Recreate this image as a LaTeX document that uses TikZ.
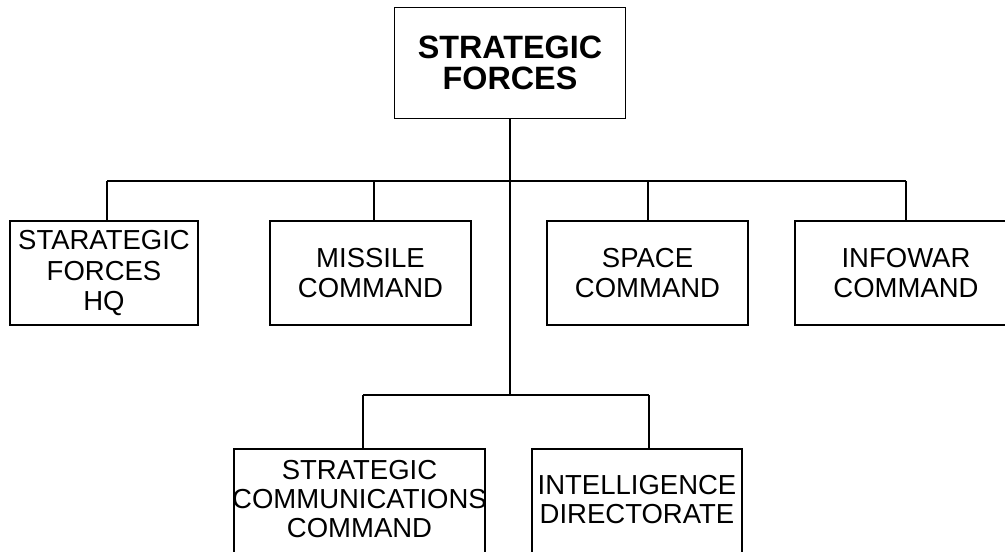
\documentclass[tikz,border=0pt]{standalone}
\usepackage{fontspec}
\setmainfont{Liberation Sans}
\begin{document}
\begin{tikzpicture}[x=1pt,y=-1pt,
  box/.style={draw, line width=1.3pt, inner sep=0pt, align=center,
    font=\fontsize{27.5}{30.5}\selectfont, minimum height=104pt},
  txt/.style={inner sep=0pt, align=center, font=\fontsize{27.5}{29}\selectfont},
  conn/.style={line width=1.3pt}]
\useasboundingbox (0,0) rectangle (1005,552);
\clip (0,0) rectangle (1005,552);
\fill[white] (0,0) rectangle (1005,552);
% top
\node[box, minimum width=231pt, minimum height=111pt,
  font=\fontsize{32.3}{31}\selectfont\bfseries] (top) at (510,63) {STRATEGIC\\FORCES};
% row
\node[box, minimum width=188pt] (hq) at (104,273) {STARATEGIC\\FORCES\\HQ};
\node[box, minimum width=201pt, font=\fontsize{27.5}{29.5}\selectfont] (mis) at (370.5,273) {MISSILE\\COMMAND};
\node[box, minimum width=201pt, font=\fontsize{27.5}{29.5}\selectfont] (spa) at (647.5,273) {SPACE\\COMMAND};
\node[box, minimum width=222pt, font=\fontsize{27.5}{29.5}\selectfont] (info) at (906,273) {INFOWAR\\COMMAND};
% bottom
\node[box, minimum width=251pt, minimum height=126pt] (comm) at (359.5,512) {};
\node[txt] (commtxt) at (359.5,499) {STRATEGIC\\COMMUNICATIONS\\COMMAND};
\node[box, minimum width=210pt, minimum height=126pt] (intel) at (637,512) {};
\node[txt] (inteltxt) at (637,499.5) {INTELLIGENCE\\DIRECTORATE};
% connectors
\coordinate (b1) at (107,181);
\coordinate (b2) at (374,181);
\coordinate (b3) at (648,181);
\coordinate (b4) at (906,181);
\coordinate (c1) at (363,395);
\coordinate (c2) at (649,395);
\draw[conn] (top.south) -- (top.south |- c1);
\draw[conn] (b1) -- (b4);
\draw[conn] (b1) -- (hq.north -| b1);
\draw[conn] (b2) -- (mis.north -| b2);
\draw[conn] (b3) -- (spa.north -| b3);
\draw[conn] (b4) -- (info.north -| b4);
\draw[conn] (c1) -- (c2);
\draw[conn] (c1) -- (comm.north -| c1);
\draw[conn] (c2) -- (intel.north -| c2);
\end{tikzpicture}
\end{document}
